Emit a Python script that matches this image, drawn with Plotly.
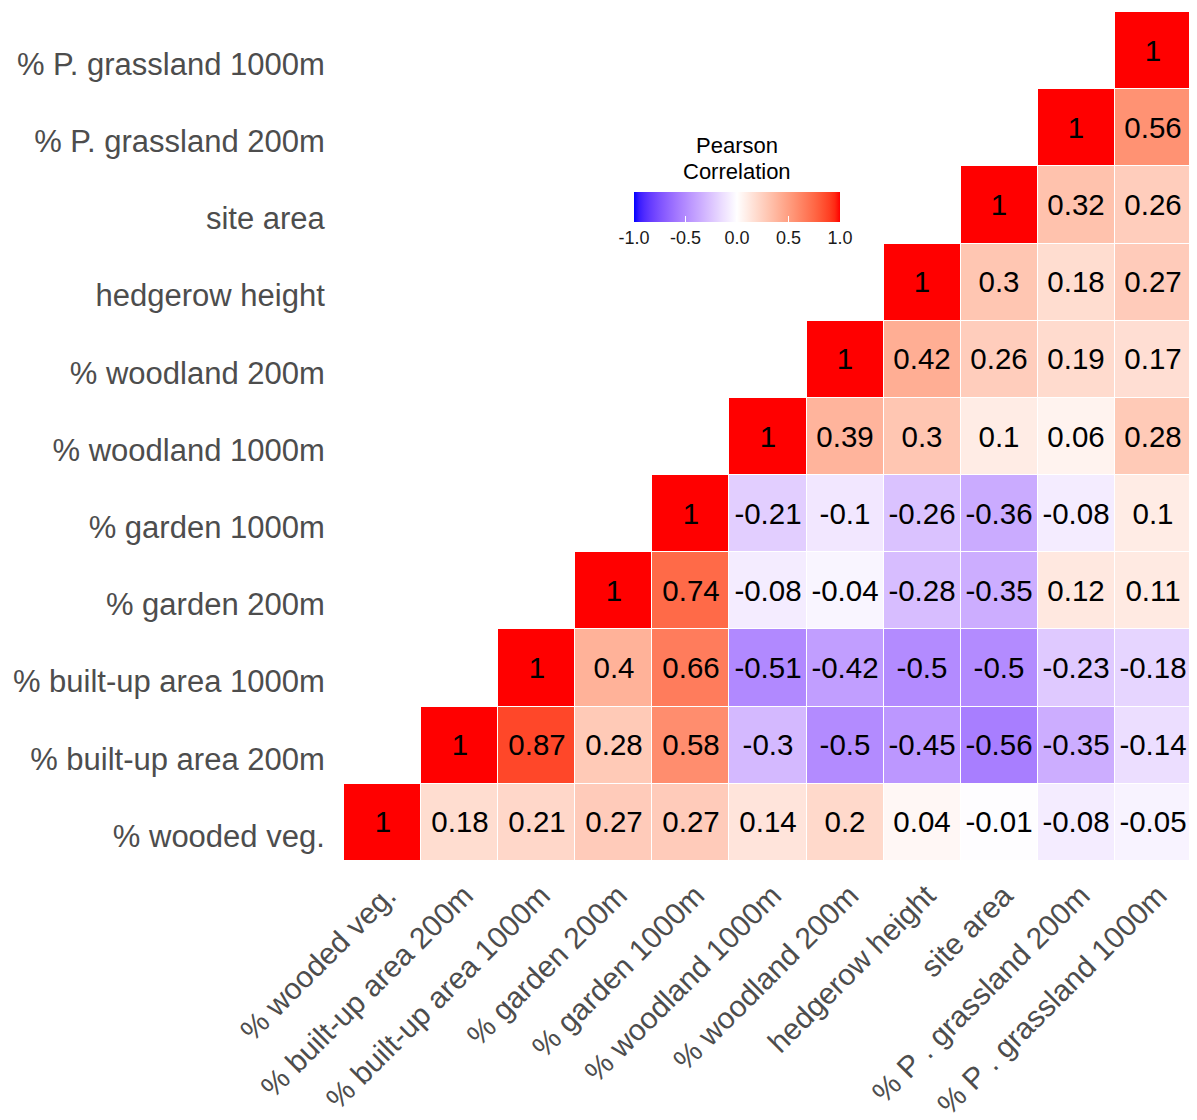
import plotly.graph_objects as go

# ---- data ----
y_labels = ["% wooded veg.", "% built-up area 200m", "% built-up area 1000m",
            "% garden 200m", "% garden 1000m", "% woodland 1000m", "% woodland 200m",
            "hedgerow height", "site area", "% P. grassland 200m", "% P. grassland 1000m"]
x_labels = ["% wooded veg.", "% built-up area 200m", "% built-up area 1000m",
            "% garden 200m", "% garden 1000m", "% woodland 1000m", "% woodland 200m",
            "hedgerow height", "site area", "% P . grassland 200m", "% P . grassland 1000m"]

# each row starts at the diagonal and runs to the right
row_wooded_veg = [1, 0.18, 0.21, 0.27, 0.27, 0.14, 0.2, 0.04, -0.01, -0.08, -0.05]
row_builtup_200 = [1, 0.87, 0.28, 0.58, -0.3, -0.5, -0.45, -0.56, -0.35, -0.14]
row_builtup_1000 = [1, 0.4, 0.66, -0.51, -0.42, -0.5, -0.5, -0.23, -0.18]
row_garden_200 = [1, 0.74, -0.08, -0.04, -0.28, -0.35, 0.12, 0.11]
row_garden_1000 = [1, -0.21, -0.1, -0.26, -0.36, -0.08, 0.1]
row_woodland_1000 = [1, 0.39, 0.3, 0.1, 0.06, 0.28]
row_woodland_200 = [1, 0.42, 0.26, 0.19, 0.17]
row_hedgerow = [1, 0.3, 0.18, 0.27]
row_site_area = [1, 0.32, 0.26]
row_grass_200 = [1, 0.56]
row_grass_1000 = [1]

rows = [row_wooded_veg, row_builtup_200, row_builtup_1000, row_garden_200,
        row_garden_1000, row_woodland_1000, row_woodland_200, row_hedgerow,
        row_site_area, row_grass_200, row_grass_1000]

legend_title_lines = ["Pearson", "Correlation"]

n = len(y_labels)
z = [[None] * n for _ in range(n)]
txt = [[""] * n for _ in range(n)]
for i, r in enumerate(rows):
    for k, v in enumerate(r):
        z[i][i + k] = v
        txt[i][i + k] = f"{v:g}"

# ---- colour scale interpolated in CIELAB (blue - white - red) ----
M = [[0.4124564, 0.3575761, 0.1804375], [0.2126729, 0.7151522, 0.0721750], [0.0193339, 0.1191920, 0.9503041]]
Minv = [[3.2404542, -1.5371385, -0.4985314], [-0.9692660, 1.8760108, 0.0415560], [0.0556434, -0.2040259, 1.0572252]]
WN = (0.95047, 1.0, 1.08883)
d = 6 / 29


def to_lab(rgb):
    lin = []
    for c in rgb:
        c = c / 255
        lin.append(c / 12.92 if c <= 0.04045 else ((c + 0.055) / 1.055) ** 2.4)
    xyz = [sum(M[i][j] * lin[j] for j in range(3)) / WN[i] for i in range(3)]
    f = [t ** (1 / 3) if t > d ** 3 else t / (3 * d * d) + 4 / 29 for t in xyz]
    return (116 * f[1] - 16, 500 * (f[0] - f[1]), 200 * (f[1] - f[2]))


def from_lab(lab):
    L, a, b = lab
    fy = (L + 16) / 116
    fs = [fy + a / 500, fy, fy - b / 200]
    xyz = [(t ** 3 if t > d else 3 * d * d * (t - 4 / 29)) * WN[i] for i, t in enumerate(fs)]
    out = []
    for i in range(3):
        c = sum(Minv[i][j] * xyz[j] for j in range(3))
        c = 12.92 * c if c <= 0.0031308 else 1.055 * c ** (1 / 2.4) - 0.055
        out.append(int(round(max(0, min(1, c)) * 255)))
    return "rgb(%d,%d,%d)" % tuple(out)


lab_b, lab_w, lab_r = to_lab((0, 0, 255)), to_lab((255, 255, 255)), to_lab((255, 0, 0))
colorscale = []
N = 40
for k in range(N + 1):
    t = k / N
    if t <= 0.5:
        s = t / 0.5
        lab = tuple(lab_b[i] + (lab_w[i] - lab_b[i]) * s for i in range(3))
    else:
        s = (t - 0.5) / 0.5
        lab = tuple(lab_w[i] + (lab_r[i] - lab_w[i]) * s for i in range(3))
    colorscale.append([t, from_lab(lab)])

FONT = "Liberation Sans, Arial, sans-serif"
PLOT_H = 849.0
CB_X = 0.4634
Y_LABEL_SHIFT = 0.175   # reference draws row labels slightly below row centres
X_LABEL_SHIFT = 0.06

fig = go.Figure(go.Heatmap(
    z=z, x=list(range(n)), y=list(range(n)),
    text=txt, texttemplate="%{text}",
    textfont=dict(family=FONT, size=29.5, color="black"),
    colorscale=colorscale, zmin=-1, zmax=1,
    xgap=1, ygap=1, hoverinfo="skip",
    colorbar=dict(
        orientation="h", x=CB_X, xanchor="center",
        y=1 - (192 - 12) / PLOT_H, yanchor="top", ypad=0,
        lenmode="pixels", len=226, thickness=30, outlinewidth=0,
        tickvals=[-1, -0.5, 0, 0.5, 1], ticktext=["-1.0", "-0.5", "0.0", "0.5", "1.0"],
        ticks="inside", tickcolor="white", ticklen=6,
        tickfont=dict(family=FONT, size=18, color="#1a1a1a"),
    ),
))

for line, ypix in zip(legend_title_lines, [145, 171]):
    fig.add_annotation(text=line, xref="paper", yref="paper", x=CB_X,
                       y=1 - (ypix - 12) / PLOT_H, xanchor="center", yanchor="middle",
                       showarrow=False, font=dict(family=FONT, size=22, color="black"))

# the page body adds an 8px offset; size the figure so the plot lands where the reference has it
fig.update_layout(
    width=1189, height=1112,
    margin=dict(l=336, r=5, t=4, b=259, autoexpand=False),
    paper_bgcolor="white", plot_bgcolor="white",
    font=dict(family=FONT),
    xaxis=dict(range=[-0.5, n - 0.5], tickvals=[i + X_LABEL_SHIFT for i in range(n)],
               ticktext=x_labels,
               tickangle=-45, showgrid=False, zeroline=False, showline=False,
               automargin=False,
               ticks="outside", ticklen=4, tickcolor="rgba(0,0,0,0)",
               tickfont=dict(family=FONT, size=30, color="#4D4D4D")),
    yaxis=dict(range=[-0.5, n - 0.5], tickvals=[i - Y_LABEL_SHIFT for i in range(n)],
               ticktext=y_labels,
               showgrid=False, zeroline=False, showline=False,
               automargin=False,
               ticks="outside", ticklen=12, tickcolor="rgba(0,0,0,0)",
               tickfont=dict(family=FONT, size=31, color="#4D4D4D")),
)

fig.write_html("out.html")
